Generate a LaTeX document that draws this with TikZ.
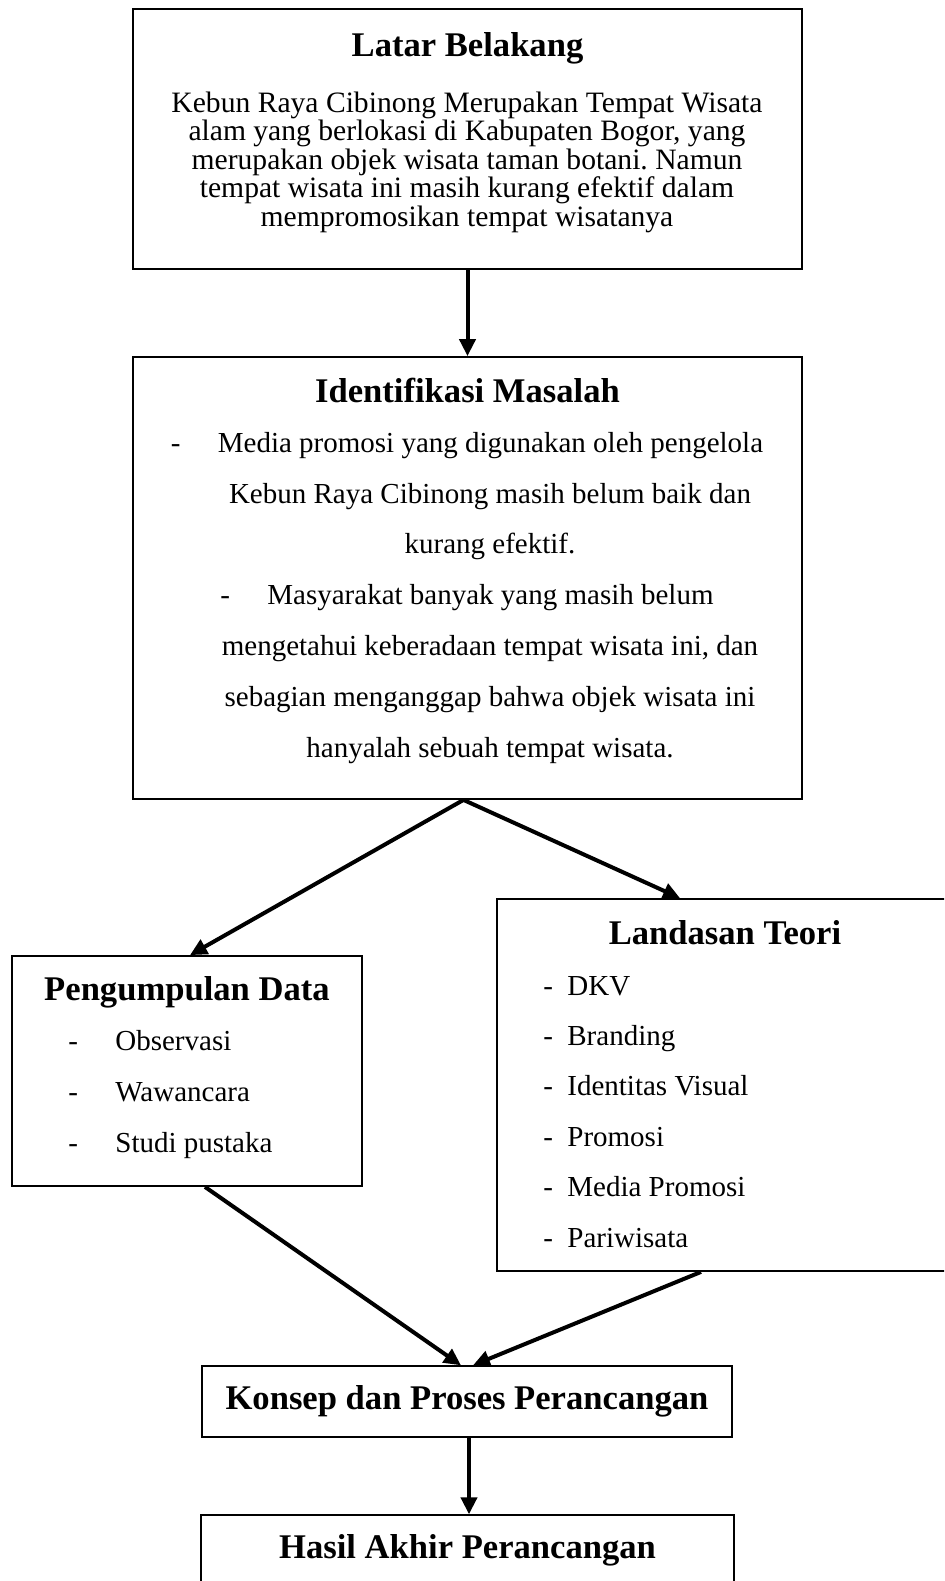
\documentclass[tikz,border=0pt]{standalone}
\usepackage{fontspec}
\setmainfont{Liberation Serif}
\usetikzlibrary{arrows.meta}
\frenchspacing

\tikzset{
  titletext/.style={font=\fontsize{17.3}{20}\selectfont\bfseries, inner sep=0pt, anchor=base},
  bodytext/.style={inner sep=0pt, anchor=base},
  flowarrow/.style={-{Triangle[length=8.5pt,width=8pt]}, line width=2pt},
}
\newcommand{\dashitem}[1]{\makebox[#1][l]{-}}

\begin{document}
\begin{tikzpicture}[x=0.5pt, y=-0.5pt]
  \clip (0,0) rectangle (944,1581);

  % kotak
  \begin{scope}[every node/.style={draw, line width=0.9pt, inner sep=0pt}]
    \node[minimum width=334.5pt, minimum height=130pt] (latar) at (467.5,139) {};
    \node[minimum width=334.5pt, minimum height=221pt] (ident) at (467.5,578) {};
    \node[minimum width=175pt, minimum height=115pt] (kumpul) at (187,1071) {};
    \node[minimum width=228pt, minimum height=186pt] (teori) at (725,1085) {};
  \end{scope}
  \begin{scope}[every node/.style={draw, line width=0.7pt, inner sep=0pt}]
    \node[minimum width=265pt, minimum height=35.5pt] (konsep) at (467,1401.5) {};
    \node[minimum width=266.5pt, minimum height=62.5pt] (hasil) at (467.5,1577.5) {};
  \end{scope}

  % teks (base = baris terakhir)
  \node[titletext] (latarT) at (467.5,56) {Latar Belakang};
  \node[bodytext, align=center, font=\fontsize{14.8}{14.25}\selectfont] (latarB) at (467,226)
    {Kebun Raya Cibinong Merupakan Tempat Wisata\\
     alam yang berlokasi di Kabupaten Bogor, yang\\
     merupakan objek wisata taman botani. Namun\\
     tempat wisata ini masih kurang efektif dalam\\
     mempromosikan tempat wisatanya};

  \node[titletext] (identT) at (467.5,402) {Identifikasi Masalah};
  \node[bodytext, align=center, font=\fontsize{14.5}{25.4}\selectfont] (identB) at (467,757)
    {\dashitem{23.5pt}Media promosi yang digunakan oleh pengelola\\
     \hspace*{23pt}Kebun Raya Cibinong masih belum baik dan\\
     \hspace*{23pt}kurang efektif.\\
     \dashitem{23.5pt}Masyarakat banyak yang masih belum\\
     \hspace*{23pt}mengetahui keberadaan tempat wisata ini, dan\\
     \hspace*{23pt}sebagian menganggap bahwa objek wisata ini\\
     \hspace*{23pt}hanyalah sebuah tempat wisata.};

  \node[titletext] (kumpulT) at (187,1000) {Pengumpulan Data};
  \node[bodytext, anchor=base west, align=left, font=\fontsize{14.5}{25.5}\selectfont] (kumpulB) at (68,1152)
    {\dashitem{23.5pt}Observasi\\
     \dashitem{23.5pt}Wawancara\\
     \dashitem{23.5pt}Studi pustaka};

  \node[titletext] (teoriT) at (725,944) {Landasan Teori};
  \node[bodytext, anchor=base west, align=left, font=\fontsize{14.5}{25.2}\selectfont] (teoriB) at (543,1247)
    {\dashitem{12pt}DKV\\
     \dashitem{12pt}Branding\\
     \dashitem{12pt}Identitas Visual\\
     \dashitem{12pt}Promosi\\
     \dashitem{12pt}Media Promosi\\
     \dashitem{12pt}Pariwisata};

  \node[titletext] (konsepT) at (467,1409) {Konsep dan Proses Perancangan};
  \node[titletext] (hasilT) at (467.5,1558) {Hasil Akhir Perancangan};

  % panah
  \begin{scope}[every edge/.style={draw, flowarrow}]
    \path (latar) edge (ident);
    \path ([xshift=-2pt]ident.south) edge ([xshift=1.5pt]kumpul.north);
    \path ([xshift=-2pt]ident.south) edge ([xshift=-22.5pt]teori.north);
    \path ([xshift=9pt]kumpul.south) edge ([xshift=-3pt]konsep.north);
    \path ([xshift=-12pt]teori.south) edge ([xshift=3pt]konsep.north);
    \path ([xshift=1pt]konsep.south) edge ([xshift=1pt]konsep.south |- hasil.north);
  \end{scope}

\end{tikzpicture}
\end{document}
